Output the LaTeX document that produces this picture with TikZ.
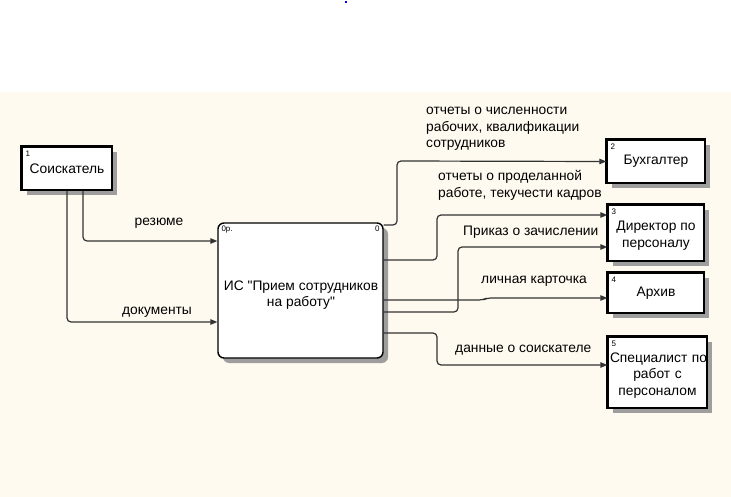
\documentclass[tikz,border=0pt]{standalone}
\usepackage{fontspec}
\setmainfont{Liberation Sans}[Ligatures=TeXOff]
\usetikzlibrary{arrows.meta,calc,shadows}
\definecolor{bg}{RGB}{255,250,240}
\begin{document}
\begin{tikzpicture}[x=1pt,y=-1pt,
  font=\fontsize{13.8}{16.5}\selectfont,
  boxshadow/.style={drop shadow={shadow xshift=5pt,shadow yshift=-5pt,fill=black!38,opacity=1}},
  extbox/.style={draw=black,line width=1.4pt,fill=white,inner sep=0pt,align=center,boxshadow},
  mainbox/.style={draw=black,line width=1.4pt,fill=white,rounded corners=6pt,inner sep=0pt,boxshadow},
  flow/.style={draw=black!80,line width=1.2pt,rounded corners=4pt,-{Triangle[length=7pt,width=5.5pt]}},
  lbl/.style={inner sep=0pt,align=left},
  num/.style={font=\fontsize{8}{8}\selectfont,inner sep=0pt,anchor=north west},
]
\fill[white] (0,0) rectangle (731,497);
\fill[bg] (0,92) rectangle (731,497);
\useasboundingbox (0,0) rectangle (731,497);
\fill[blue] (345,1) rectangle (347,3);

% boxes
\node[extbox,minimum width=90pt,minimum height=43pt] (soisk) at (67,168.5) {Соискатель};
\node[extbox,minimum width=98pt,minimum height=43pt] (buh) at (656,161.5) {Бухгалтер};
\node[extbox,minimum width=96pt,minimum height=56pt] (dir) at (656,233) {\rule{0pt}{15pt}Директор по\\персоналу};
\node[extbox,minimum width=96pt,minimum height=40pt] (arch) at (656,293) {Архив};
\node[extbox,minimum width=99pt,minimum height=71pt,text width=95pt] (spec) at (657.5,372.5) {\rule{0pt}{15pt}\mbox{Специалист по}\\работ с\\персоналом};
\node[mainbox,minimum width=165pt,minimum height=135pt] (main) at (300.5,290.5) {};
\node[inner sep=0pt,align=center] (maintext) at (301,295) {ИС "Прием сотрудников\\на работу"};

\foreach \n in {soisk,buh,dir,arch,spec}
  \draw[line width=3.5pt] (\n.south west) -- (\n.north west) -- (\n.north east);

% numbers
\node[num] (n1) at ($(soisk.north west)+(4,4)$) {1};
\node[num] (n2) at ($(buh.north west)+(4,4)$) {2};
\node[num] (n3) at ($(dir.north west)+(4,4)$) {3};
\node[num] (n4) at ($(arch.north west)+(4,4)$) {4};
\node[num] (n5) at ($(spec.north west)+(4,4)$) {5};
\node[num] (n0a) at ($(main.north west)+(4,3)$) {0р.};
\node[num,anchor=north east] (n0b) at ($(main.north east)+(-4,3)$) {0};

% connectors
\draw[flow] (soisk.south -| 83,0) -- (83,241) -- (main.west |- 0,241);
\draw[flow] (soisk.south -| 67,0) -- (67,322) -- (main.west |- 0,322);
\draw[flow] (main.east |- 0,225) -- (397,225) -- (397,161) -- (buh.west);
\draw[flow] (main.east |- 0,260) -- (437,260) -- (437,215) -- (dir.west |- 0,215);
\draw[flow] (main.east |- 0,312) -- (458,312) -- (458,247) -- (dir.west |- 0,247);
\draw[flow] (main.east |- 0,300) -- (483,300) -- (487,298) -- (arch.west |- 0,298);
\draw[flow] (main.east |- 0,333) -- (437,333) -- (437,365) -- (spec.west |- 0,365);

% labels
\node[lbl] (l1) at (159,223) {резюме};
\node[lbl] (l2) at (157,312) {документы};
\node[lbl,anchor=west] (l3) at (426,129) {отчеты о численности\\рабочих, квалификации\\сотрудников};
\node[lbl,anchor=west] (l4) at (438,185.5) {отчеты о проделанной\\работе, текучести кадров};
\node[lbl,anchor=west] (l5) at (463,232) {Приказ о зачислении};
\node[lbl,anchor=west] (l6) at (481,281) {личная карточка};
\node[lbl,anchor=west] (l7) at (455,350) {данные о соискателе};
\end{tikzpicture}
\end{document}
